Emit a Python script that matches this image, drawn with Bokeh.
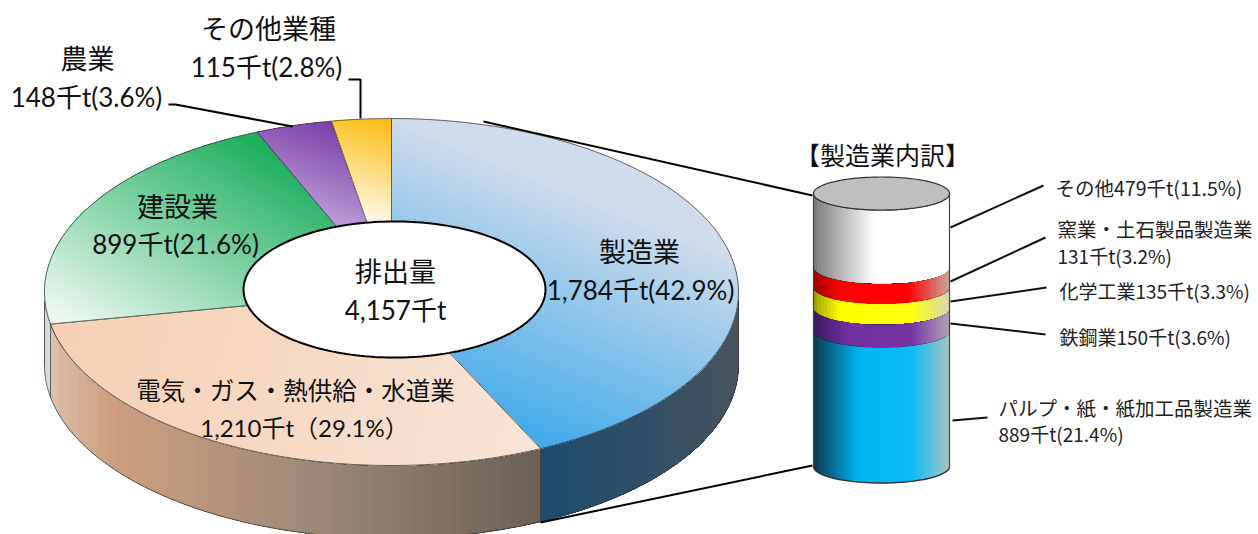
import math
import numpy as np
from bokeh.plotting import figure
from bokeh.models import Range1d, ColumnDataSource
from bokeh.core.properties import value
from bokeh.embed import file_html
from bokeh.resources import INLINE

# ---------- data ----------
sectors = ["製造業", "電気・ガス・熱供給・水道業", "建設業", "農業", "その他業種"]
sector_values = [1784, 1210, 899, 148, 115]
sector_pct = ["42.9", "29.1", "21.6", "3.6", "2.8"]
total_label = "排出量"
total_value = 4157

parts = ["パルプ・紙・紙加工品製造業", "鉄鋼業", "化学工業", "窯業・土石製品製造業", "その他"]
part_values = [889, 150, 135, 131, 479]
part_pct = ["21.4", "3.6", "3.3", "3.2", "11.5"]
parts_title = "【製造業内訳】"

# ---------- geometry (in picture pixels) ----------
CX, CY, RX, RY, DEPTH = 391, 291.5, 347, 173.5, 73
HX, HY, HRX, HRY = 394, 289, 151, 68
CYL_X, CYL_RX, CYL_RY, CYL_TOP, CYL_BOT = 881, 68, 16.5, 193, 466

p = figure(width=1258, height=534, output_backend="svg", toolbar_location=None,
           x_range=Range1d(0, 1258), y_range=Range1d(534, 0), min_border=0)
p.axis.visible = False
p.grid.visible = False
p.outline_line_color = None
p.background_fill_color = "white"
p.border_fill_color = "white"


def hex2rgb(h):
    return np.array([int(h[i:i + 2], 16) for i in (1, 3, 5)], dtype=float)


def mix(stops, f):
    f = min(1, max(0, f))
    for (a, ca), (b, cb) in zip(stops, stops[1:]):
        if f <= b:
            u = (f - a) / (b - a) if b > a else 0
            c = hex2rgb(ca) * (1 - u) + hex2rgb(cb) * u
            return "#%02x%02x%02x" % tuple(int(round(v)) for v in c)
    return stops[-1][1]


def clip(poly, d, t):
    out = []
    n = len(poly)
    for i in range(n):
        a, b = poly[i], poly[(i + 1) % n]
        da = a[0] * d[0] + a[1] * d[1] - t
        db = b[0] * d[0] + b[1] * d[1] - t
        if da >= 0:
            out.append(a)
        if (da >= 0) != (db >= 0):
            u = da / (da - db)
            out.append((a[0] + (b[0] - a[0]) * u, a[1] + (b[1] - a[1]) * u))
    return out


def gradient(poly, A, B, stops, n=60):
    """Paint poly with a linear gradient from A to B, band over band."""
    L = math.hypot(B[0] - A[0], B[1] - A[1])
    d = ((B[0] - A[0]) / L, (B[1] - A[1]) / L)
    t0 = A[0] * d[0] + A[1] * d[1]
    xs, ys, cs = [[q[0] for q in poly]], [[q[1] for q in poly]], [stops[0][1]]
    for i in range(1, n):
        f = i / n
        c = clip(poly, d, t0 + f * L)
        if len(c) >= 3:
            xs.append([q[0] for q in c])
            ys.append([q[1] for q in c])
            cs.append(mix(stops, f + 0.5 / n))
    src = ColumnDataSource(dict(x=xs, y=ys, c=cs))
    p.patches("x", "y", source=src, fill_color="c", line_color=None)


def rim(a0, a1, n=90):
    return [(CX + RX * math.sin(a), CY - RY * math.cos(a))
            for a in np.linspace(a0, a1, n)]


# ---------- pie: cumulative angles from the data ----------
tot = sum(sector_values)
angles = [0.0]
for v in sector_values:
    angles.append(angles[-1] + 2 * math.pi * v / tot)

wall_styles = [
    (angles[0], angles[1], [(0, "#1e4c6e"), (0.5, "#2f4e66"), (1, "#48545f")], 540, 737),
    (angles[1], angles[2], [(0, "#dcc0ac"), (0.12, "#cfa080"), (0.52, "#9f8a78"), (1, "#6c6056")], 48, 539),
    (angles[2], angles[3], [(0, "#c8d8d2"), (1, "#d4e2dc")], 43, 48),
]
edge = dict(line_color="#333333", line_width=0.9, line_alpha=0.85)
for a0, a1, stops, xa, xb in wall_styles:
    a0c, a1c = max(a0, math.pi / 2), min(a1, 3 * math.pi / 2)
    top = rim(a0c, a1c)
    bot = [(x, y + DEPTH) for x, y in reversed(top)]
    poly = top + bot
    gradient(poly, (xa, 0), (xb, 0), stops, 50)
    p.line([q[0] for q in poly + poly[:1]], [q[1] for q in poly + poly[:1]], **edge)

slice_styles = [
    ((400, 118), (309, 340), [(0, "#d0dcec"), (1, "#45ace9")]),
    ((60, 330), (530, 450), [(0, "#f5d0b4"), (1, "#f8e4d6")]),
    ((300, 170), (175, 385), [(0, "#1fb060"), (1, "#eef8f2")]),
    ((345, 128), (310, 222), [(0, "#7a3fa8"), (1, "#c0a4da")]),
    ((380, 118), (352, 218), [(0, "#fbbe12"), (1, "#fff9ef")]),
]
for i, (A, B, stops) in enumerate(slice_styles):
    arc = rim(angles[i], angles[i + 1])
    poly = [(CX, CY)] + arc
    gradient(poly, A, B, stops, 60)
    p.line([q[0] for q in poly + poly[:1]], [q[1] for q in poly + poly[:1]], **edge)

th = np.linspace(0, 2 * math.pi, 200)
p.patch(HX + HRX * np.cos(th), HY + HRY * np.sin(th), fill_color="white",
        line_color="#000000", line_width=2)

# ---------- cylinder ----------
def front(y, n=50):
    return [(CYL_X + CYL_RX * math.cos(a), y + CYL_RY * math.sin(a))
            for a in np.linspace(math.pi, 0, n)]


band_stops = [
    [(0, "#0a3a50"), (0.33, "#00b4f0"), (0.72, "#0cbcf8"), (1, "#a8c4c0")],
    [(0, "#3a1a60"), (0.25, "#7030a0"), (0.72, "#7534a4"), (1, "#b0a4b4")],
    [(0, "#a0a000"), (0.2, "#ffff00"), (0.72, "#ffff10"), (1, "#d8d8b0")],
    [(0, "#a00000"), (0.2, "#ff0000"), (0.7, "#ff0000"), (1, "#c8a8a0")],
    [(0, "#7c7c7c"), (0.45, "#ffffff"), (1, "#ffffff")],
]
ptot = sum(part_values)
y_now = CYL_BOT
for val, stops in zip(part_values, band_stops):
    y_next = y_now - (CYL_BOT - CYL_TOP) * val / ptot
    low = front(y_now)
    up = front(y_next)
    poly = low + list(reversed(up))
    gradient(poly, (CYL_X - CYL_RX, 0), (CYL_X + CYL_RX, 0), stops, 40)
    p.line([q[0] for q in up], [q[1] for q in up], line_color="#222222", line_width=1.2)
    y_now = y_next
low = front(CYL_BOT)
p.line([q[0] for q in low], [q[1] for q in low], line_color="#333333", line_width=1.5)
for sx in (-CYL_RX, CYL_RX):
    p.line([CYL_X + sx] * 2, [CYL_TOP, CYL_BOT], line_color="#444444", line_width=1.2)
p.patch(CYL_X + CYL_RX * np.cos(th), CYL_TOP + CYL_RY * np.sin(th), fill_color="#bfbfbf",
        line_color="#333333", line_width=1.2)

# ---------- connector and leader lines ----------
leaders = [
    ([483, 812], [121, 195]), ([540, 812], [522, 465]),
    ([348, 360, 360], [79, 79, 118]), ([168, 175, 292], [104, 104, 126]),
]
for lx, ly in leaders:
    p.line(lx, ly, line_color="#000000", line_width=2)
for lx, ly in [([950, 1043], [227, 185]), ([950, 1045], [281, 237]), ([950, 1046], [301, 287]),
               ([950, 1045], [323, 334]), ([952, 987], [420, 417])]:
    p.line(lx, ly, line_color="#111111", line_width=2)

# ---------- texts ----------
def tx(x, y, s, size, align="center", font="Lato, Noto Sans CJK JP", color="#111111"):
    p.text([x], [y], text=[s], text_font=value(font), text_font_size=f"{size}px",
           text_align=align, text_baseline="middle", text_color=color)


def amount(i):
    return f"{sector_values[i]:,}千t({sector_pct[i]}%)"


CJ = "Noto Sans CJK JP"
tx(268, 28, sectors[4], 27)
tx(266, 66, amount(4), 26)
tx(87, 58, sectors[3], 27)
tx(86, 96, amount(3), 26)
tx(177, 206, sectors[2], 27)
tx(175, 243, amount(2), 26)
tx(639, 251, sectors[0], 27)
tx(640, 289, amount(0), 26)
tx(395, 271, total_label, 27)
tx(395, 309, f"{total_value:,}千t", 26)
tx(295, 390, sectors[1], 24.5)
tx(304, 427, f"{sector_values[1]:,}千t（{sector_pct[1]}%）", 24)
tx(882, 153, parts_title, 25, font=CJ)
tx(1055, 187, f"{parts[4]}{part_values[4]}千t({part_pct[4]}%)", 19.5, "left", CJ, "#222222")
tx(1057, 228, parts[3], 19.5, "left", CJ, "#222222")
tx(1057, 255, f"{part_values[3]}千t({part_pct[3]}%)", 19, "left", CJ, "#222222")
tx(1059, 290, f"{parts[2]}{part_values[2]}千t({part_pct[2]}%)", 19, "left", CJ, "#222222")
tx(1059, 336, f"{parts[1]}{part_values[1]}千t({part_pct[1]}%)", 19, "left", CJ, "#222222")
tx(998, 407, parts[0], 19.5, "left", CJ, "#222222")
tx(998, 433, f"{part_values[0]}千t({part_pct[0]}%)", 19, "left", CJ, "#222222")

open("out.html", "w").write(file_html(p, INLINE))
